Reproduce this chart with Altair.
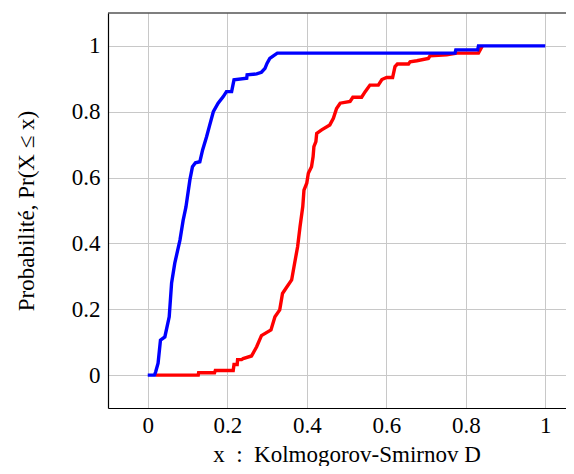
import altair as alt
import pandas as pd

# Blue ECDF vertices
blue_x = [0, 0.017, 0.02, 0.026, 0.032, 0.043, 0.054, 0.06, 0.068, 0.081, 0.089, 0.096,
          0.106, 0.1125, 0.12, 0.131, 0.138, 0.148, 0.156, 0.165, 0.177, 0.19, 0.198,
          0.211, 0.217, 0.249, 0.25, 0.274, 0.286, 0.295, 0.30, 0.307, 0.316, 0.326,
          0.773, 0.775, 0.83, 0.832, 1.0]
blue_y = [0, 0, 0.01, 0.036, 0.106, 0.116, 0.177, 0.28, 0.34, 0.41, 0.47, 0.51,
          0.593, 0.633, 0.645, 0.648, 0.684, 0.724, 0.76, 0.80, 0.826, 0.846, 0.861,
          0.861, 0.897, 0.902, 0.912, 0.915, 0.92, 0.932, 0.947, 0.962, 0.97, 0.978,
          0.978, 0.988, 0.988, 1.0, 1.0]

# Red ECDF vertices
red_x = [0.02, 0.127, 0.128, 0.168, 0.17, 0.215, 0.217, 0.225, 0.226, 0.236, 0.24, 0.261,
         0.274, 0.286, 0.31, 0.32, 0.332, 0.339, 0.349, 0.362, 0.368, 0.377, 0.383, 0.39,
         0.393, 0.40, 0.404, 0.412, 0.416, 0.418, 0.423, 0.425, 0.4375, 0.458, 0.467,
         0.475, 0.484, 0.509, 0.516, 0.538, 0.547, 0.559, 0.58, 0.589, 0.601, 0.616,
         0.622, 0.628, 0.656, 0.66, 0.677, 0.706, 0.71, 0.752, 0.778, 0.832, 0.84, 0.842]
red_y = [0, 0, 0.007, 0.007, 0.014, 0.014, 0.032, 0.032, 0.047, 0.047, 0.05, 0.058,
         0.086, 0.12, 0.137, 0.177, 0.198, 0.248, 0.266, 0.289, 0.33, 0.39, 0.45, 0.512,
         0.562, 0.583, 0.613, 0.633, 0.664, 0.694, 0.709, 0.734, 0.745, 0.76, 0.78,
         0.81, 0.826, 0.831, 0.844, 0.844, 0.861, 0.881, 0.881, 0.898, 0.904, 0.904,
         0.937, 0.945, 0.945, 0.952, 0.955, 0.962, 0.97, 0.973, 0.978, 0.978, 0.996, 1.0]

x_ticks = [0, 0.2, 0.4, 0.6, 0.8, 1]
y_ticks = [0, 0.2, 0.4, 0.6, 0.8, 1]

df = pd.concat([
    pd.DataFrame({"x": red_x, "y": red_y, "s": "red", "o": range(len(red_x))}),
    pd.DataFrame({"x": blue_x, "y": blue_y, "s": "blue", "o": range(len(blue_x))}),
])

FONT = "Liberation Serif"
LBL = "datum.value == 0 ? '0' : datum.value == 1 ? '1' : format(datum.value, '.1f')"

x_enc = alt.X("x:Q", scale=alt.Scale(domain=[-0.1, 1.0522], nice=False, zero=False),
              axis=alt.Axis(values=x_ticks, title="x\u2002:\u2002Kolmogorov-Smirnov\u00a0D",
                            labelExpr=LBL, titleX=238.5, titleAlign="center"))
y_enc = alt.Y("y:Q", scale=alt.Scale(domain=[-0.1, 1.1], nice=False, zero=False),
              axis=alt.Axis(values=y_ticks, title="Probabilité,\u00a0Pr(X\u00a0≤\u00a0x)",
                            labelExpr=LBL))

red = alt.Chart(df[df.s == "red"]).mark_line(color="#ff0000", strokeWidth=3.4, clip=True).encode(
    x=x_enc, y=y_enc, order="o:Q")
blue = alt.Chart(df[df.s == "blue"]).mark_line(color="#0000ff", strokeWidth=3.4, clip=True).encode(
    x=x_enc, y=y_enc, order="o:Q")

# top frame line (the right side of the frame lies beyond the visible area)
top_frame = alt.Chart(pd.DataFrame({"k": [0]})).mark_rule(color="#000000", strokeWidth=1.2).encode(
    x=alt.value(0), x2=alt.value(458), y=alt.value(0))

chart = alt.layer(red, blue, top_frame).properties(
    width=458, height=395,
    autosize=alt.AutoSizeParams(type="none"),
    padding={"left": 100, "top": 5, "right": 0, "bottom": 58},
).configure_view(
    strokeWidth=0
).configure_axis(
    grid=True, gridColor="#c8c8c8", gridWidth=1, ticks=False,
    domain=True, domainColor="#000000", domainWidth=1.2,
    labelFont=FONT, labelFontSize=23, labelColor="#000000",
    titleFont=FONT, titleFontSize=23, titleFontWeight="normal", titleColor="#000000",
).configure_axisX(
    labelPadding=6, titlePadding=6
).configure_axisY(
    labelPadding=8, titlePadding=33
)

chart.save("out.html", embed_options={"renderer": "svg", "actions": False})
